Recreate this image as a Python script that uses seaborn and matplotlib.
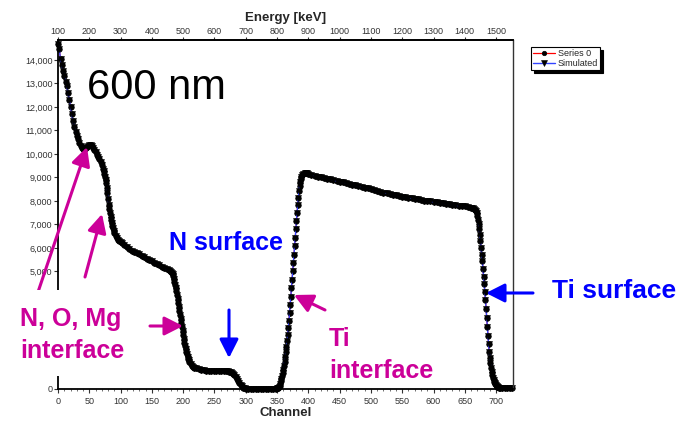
import matplotlib
matplotlib.use("Agg")
import matplotlib.pyplot as plt
from matplotlib.patches import Rectangle, FancyArrowPatch
from matplotlib.ticker import FuncFormatter, MultipleLocator
import seaborn as sns

# ---------------- data ----------------
channel = [
    0, 2, 4, 6, 8, 10, 12, 14, 16, 18, 20, 22, 24, 26, 28, 30, 32, 34, 36, 38,
    40, 42, 44, 46, 48, 50, 52, 54, 56, 58, 60, 62, 64, 66, 68, 70, 72, 73, 74,
    75, 76, 77, 78, 79, 80, 81, 82, 83, 84, 85, 86, 87, 88, 89, 90, 92, 94, 96,
    98, 100, 103, 106, 110, 114, 118, 122, 126, 130, 134, 138, 142, 146, 150,
    154, 158, 162, 166, 170, 174, 177, 179, 181, 182, 183,
    184, 185, 186, 187, 188, 189, 190, 191, 192, 193, 194, 195, 196, 197, 198,
    199, 200, 201, 202, 203, 204, 205, 206, 207, 208, 209, 210, 212, 214, 216,
    218, 221, 225, 229, 233, 237, 241, 245, 249, 253, 257, 261, 265, 269, 272,
    274, 276, 278, 280, 282, 284, 286, 288, 290, 292, 294, 296, 298, 300, 304,
    308, 312, 316, 320, 324, 328, 332, 336, 340, 344, 348,
    350, 351, 352, 353, 354, 355, 356, 357, 358, 359, 360, 361, 362, 363, 364,
    365, 366, 367, 368, 369, 370, 371, 372, 373, 374, 375, 376, 377, 378, 379,
    380, 381, 382, 383, 384, 385, 386, 387, 388, 389, 390, 392, 394, 396, 398,
    400, 405, 410, 415, 420, 425, 430, 435, 440, 445, 450, 455, 460, 465, 470,
    475, 480, 485, 490, 495, 500, 505, 510, 515, 520, 525, 530, 535, 540, 545,
    550, 555, 560, 565, 570, 575, 580, 585, 590, 595, 600, 605, 610, 615, 620,
    625, 630, 635, 640, 645, 650, 655, 660, 663, 665, 667,
    668, 669, 670, 671, 672, 673, 674, 675, 676, 677, 678, 679, 680, 681, 682,
    683, 684, 685, 686, 687, 688, 689, 690, 691, 692, 693, 694, 695, 696, 697,
    698, 699, 700, 701, 702, 703, 704, 706, 710, 714, 718, 722, 726,
]
measured_counts = [
    14700, 14450, 14050, 13800, 13550, 13300, 13080, 12880, 12600, 12300,
    12000, 11700, 11400, 11150, 10950, 10780, 10620, 10480, 10360, 10260,
    10200, 10190, 10240, 10310, 10360, 10380, 10370, 10330, 10260, 10170,
    10070, 9970, 9870, 9780, 9680, 9540, 9370, 9270, 9160,
    9040, 8900, 8750, 8560, 8330, 8080, 7850, 7650, 7480, 7330, 7190, 7060,
    6940, 6840, 6740, 6640, 6500, 6420, 6360,
    6310, 6260, 6200, 6130, 6040, 5960, 5890, 5830, 5780, 5730, 5670, 5600,
    5530, 5480, 5430,
    5380, 5330, 5260, 5200, 5140, 5090, 5050, 5020, 4980, 4940, 4890,
    4800, 4680, 4560, 4430, 4300, 4180, 4010, 3830, 3650, 3470, 3300, 3130,
    2960, 2800, 2630,
    2460, 2290, 2120, 1960, 1820, 1690, 1570, 1470, 1375, 1290, 1220, 1160,
    1060, 990, 940,
    910, 880, 840, 810, 795, 785, 780, 780, 778, 778, 775, 775, 770, 765, 755,
    740, 710, 670, 630, 580, 500, 420, 330, 250, 170, 110, 60, 35, 20, 20,
    20, 20, 20, 20, 20, 20, 20, 20, 20, 20, 20,
    25, 35, 50, 80, 140, 220, 320, 430, 550, 680, 820, 980, 1150, 1350, 1570,
    1800, 2030, 2280, 2580, 2900, 3230, 3570, 3920, 4280, 4640, 5000, 5360,
    5720, 6080, 6440,
    6800, 7150, 7500, 7830, 8140, 8420, 8640, 8820, 8950, 9040, 9100, 9150,
    9175, 9180, 9170,
    9150, 9110, 9080, 9040, 9010, 8980, 8950, 8920, 8880, 8850, 8820, 8790,
    8760, 8730, 8700,
    8670, 8640, 8610, 8570, 8540, 8500, 8460, 8420, 8390, 8360, 8330, 8300,
    8270, 8250, 8220,
    8190, 8170, 8140, 8110, 8090, 8070, 8040, 8020, 8000, 7980, 7960, 7940,
    7920, 7900, 7880,
    7860, 7840, 7820, 7800, 7790, 7770, 7750, 7720, 7700, 7670, 7620,
    7560, 7470, 7350, 7200, 7020, 6800, 6550, 6280, 6000, 5720, 5450, 5120,
    4780, 4450, 4120,
    3790, 3410, 3020, 2620, 2240, 1900, 1590, 1320, 1090, 890, 720, 580, 460,
    370, 300,
    250, 210, 170, 130, 95, 70, 55, 45, 40, 40, 40, 40, 40,
]
# the simulated curve lies on top of the measured one everywhere
simulated_counts = list(measured_counts)

series_labels = ["Series 0", "Simulated"]
channel_ticks = list(range(0, 701, 50))
# 1,000-4,000 are hidden behind the "N, O, Mg interface" label in the picture
count_ticks = [0] + list(range(5000, 14001, 1000))
energy_ticks = list(range(100, 1501, 100))

MAGENTA = "#CC0099"
BLUE = "#0000FF"

# ---------------- figure ----------------
sns.set_theme(style="ticks")
plt.rcParams["font.family"] = ["Liberation Sans", "DejaVu Sans"]

W, H = 690, 422
fig = plt.figure(figsize=(W / 100, H / 100), dpi=100)
fig.patch.set_facecolor("white")


def fx(px):
    return px / W


def fy(py):
    return 1 - py / H


ax = fig.add_axes([fx(58), fy(389), fx(513) - fx(58), fy(40) - fy(389)])
ax.set_facecolor("white")

sns.lineplot(x=channel, y=measured_counts, ax=ax, color="red", linewidth=0.9,
             marker="o", markersize=4.0, markerfacecolor="black",
             markeredgecolor="black", markeredgewidth=0.5,
             label=series_labels[0], clip_on=False, sort=False)
sns.lineplot(x=channel, y=simulated_counts, ax=ax, color="#3344FF", linewidth=1.0,
             marker="v", markersize=4.6, markerfacecolor="black",
             markeredgecolor="black", markeredgewidth=0.4,
             label=series_labels[1], clip_on=False, sort=False)

ax.set_xlim(0, 727)
ax.set_ylim(0, 14850)
ax.set_xticks(channel_ticks)
ax.xaxis.set_minor_locator(MultipleLocator(10))
ax.set_yticks(count_ticks)
ax.yaxis.set_major_formatter(FuncFormatter(lambda v, p: f"{int(v):,}"))
ax.tick_params(axis="both", which="major", direction="out", length=3,
               width=0.8, color="#333333", labelsize=6.5, labelcolor="#333333")
ax.tick_params(axis="y", pad=1)
ax.tick_params(axis="x", pad=2.5)
ax.tick_params(axis="x", which="minor", direction="out", length=1.5,
               width=0.6, color="#555555")
ax.set_xlabel("Channel", fontsize=9.5, fontweight="bold", labelpad=1)
ax.set_ylabel("")

for side in ["left", "bottom", "top"]:
    ax.spines[side].set_color("black")
    ax.spines[side].set_linewidth(1.3)
ax.spines["right"].set_color("#333333")
ax.spines["right"].set_linewidth(1.0)

secax = ax.secondary_xaxis("top", functions=(lambda c: 100 + 2 * c,
                                             lambda e: (e - 100) / 2))
secax.set_xticks(energy_ticks)
secax.tick_params(axis="x", direction="out", length=2.2, width=0.8,
                  color="#333333", labelsize=6.5, labelcolor="#333333", pad=0.8)
secax.set_xlabel("Energy [keV]", fontsize=9.5, fontweight="bold", labelpad=4)
secax.spines["top"].set_linewidth(1.3)

leg = ax.legend(loc="upper left", bbox_to_anchor=(fx(531), fy(47)),
                bbox_transform=fig.transFigure, fontsize=6.5, frameon=True,
                fancybox=False, shadow={"color": "black", "alpha": 1.0},
                borderpad=0.25, labelspacing=0.1, handlelength=2.4,
                handletextpad=0.3, borderaxespad=0, framealpha=1,
                markerscale=0.8)
leg.get_frame().set_edgecolor("black")
leg.get_frame().set_linewidth(0.8)

# white box behind the "N, O, Mg interface" label (hides part of the y axis)
fig.add_artist(Rectangle((fx(0), fy(376)), fx(140), fy(290) - fy(376),
                         transform=fig.transFigure, facecolor="white",
                         edgecolor="none", zorder=3))


def arrow(p0, p1, color, z=4):
    fig.add_artist(FancyArrowPatch(
        (fx(p0[0]), fy(p0[1])), (fx(p1[0]), fy(p1[1])),
        transform=fig.transFigure,
        arrowstyle="-|>,head_length=0.75,head_width=0.38",
        mutation_scale=15, lw=2.2, color=color, shrinkA=0, shrinkB=0,
        zorder=z))


arrow((37, 295), (87, 147), MAGENTA, z=2)
arrow((85, 277), (102, 214), MAGENTA)
arrow((150, 326), (183, 326), MAGENTA)
arrow((229, 310), (229, 358), BLUE)
arrow((325, 310), (294, 295), MAGENTA)
arrow((533, 293), (486, 293), BLUE)

fig.text(fx(87), fy(99), "600 nm", fontsize=30, color="black",
         va="baseline", ha="left", zorder=5)
fig.text(fx(169), fy(250), "N surface", fontsize=18, fontweight="bold",
         color=BLUE, va="baseline", ha="left", zorder=5)
fig.text(fx(20), fy(358), "N, O, Mg\ninterface", fontsize=18,
         fontweight="bold", color=MAGENTA, va="baseline", ha="left",
         linespacing=1.41, zorder=5)
fig.text(fx(329), fy(378), "Ti\ninterface", fontsize=18, fontweight="bold",
         color=MAGENTA, va="baseline", ha="left", linespacing=1.41, zorder=5)
fig.text(fx(552), fy(298), "Ti surface", fontsize=19, fontweight="bold",
         color=BLUE, va="baseline", ha="left", zorder=5)

fig.savefig("out.png", dpi=100, facecolor="white")
